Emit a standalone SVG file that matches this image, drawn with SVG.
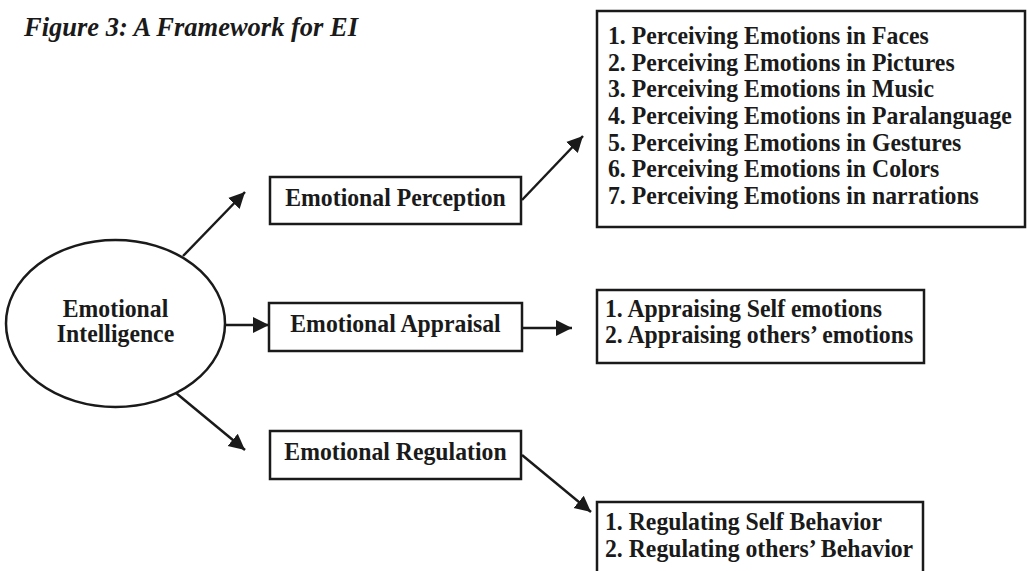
<svg xmlns="http://www.w3.org/2000/svg" width="1027" height="571" viewBox="0 0 1027 571">
<style>
text{font-family:"Liberation Serif","Times New Roman",serif;font-weight:bold;font-size:25px;fill:#1a1a1a}
.title{font-style:italic;font-size:26.5px}
.c{text-anchor:middle}
.box{fill:#fff;stroke:#1a1a1a;stroke-width:2.5}
.conn{stroke:#1a1a1a;stroke-width:2.5;fill:none;marker-end:url(#ah)}
</style>
<defs>
<marker id="ah" markerUnits="userSpaceOnUse" markerWidth="20" markerHeight="20" refX="16" refY="8" orient="auto" viewBox="0 0 20 16">
<path d="M0,0 L16,8 L0,16 z" fill="#1a1a1a"/>
</marker>
</defs>
<rect width="1027" height="571" fill="#fff"/>
<text class="title" x="24" y="36">Figure 3: A Framework for EI</text>
<g id="ei">
<ellipse cx="115.5" cy="323.5" rx="109.5" ry="83.5" class="box"/>
<g transform="scale(0.95,1)">
<text class="c" x="121.6" y="317">Emotional</text>
<text class="c" x="121.6" y="342">Intelligence</text>
</g>
</g>
<g id="perception">
<rect x="270" y="177" width="251" height="47" class="box"/>
<text class="c" x="416.3" y="206" transform="scale(0.95,1)">Emotional Perception</text>
</g>
<g id="appraisal">
<rect x="269" y="303" width="253" height="48" class="box"/>
<text class="c" x="416.3" y="332" transform="scale(0.95,1)">Emotional Appraisal</text>
</g>
<g id="regulation">
<rect x="270" y="431" width="251" height="48" class="box"/>
<text class="c" x="416.3" y="460" transform="scale(0.95,1)">Emotional Regulation</text>
</g>
<g id="perception-list">
<rect x="597" y="11" width="428" height="216" class="box"/>
<g transform="scale(0.95,1)">
<text x="640" y="44">1. Perceiving Emotions in Faces</text>
<text x="640" y="70.7">2. Perceiving Emotions in Pictures</text>
<text x="640" y="97.4">3. Perceiving Emotions in Music</text>
<text x="640" y="124.1">4. Perceiving Emotions in Paralanguage</text>
<text x="640" y="150.8">5. Perceiving Emotions in Gestures</text>
<text x="640" y="177.5">6. Perceiving Emotions in Colors</text>
<text x="640" y="204.2">7. Perceiving Emotions in narrations</text>
</g>
</g>
<g id="appraisal-list">
<rect x="597" y="290" width="327" height="73" class="box"/>
<g transform="scale(0.95,1)">
<text x="636.8" y="317">1. Appraising Self emotions</text>
<text x="636.8" y="343">2. Appraising others’ emotions</text>
</g>
</g>
<g id="regulation-list">
<rect x="597" y="502" width="326" height="80" class="box"/>
<g transform="scale(0.95,1)">
<text x="636.8" y="530">1. Regulating Self Behavior</text>
<text x="636.8" y="557">2. Regulating others’ Behavior</text>
</g>
</g>
<g id="connectors">
<line class="conn" x1="183" y1="256" x2="245" y2="192"/>
<line class="conn" x1="225" y1="325" x2="269" y2="325"/>
<line class="conn" x1="176" y1="393" x2="245" y2="450"/>
<line class="conn" x1="522" y1="200" x2="583" y2="136"/>
<line class="conn" x1="522" y1="328" x2="572" y2="328"/>
<line class="conn" x1="522" y1="455" x2="591" y2="512"/>
</g>
</svg>
